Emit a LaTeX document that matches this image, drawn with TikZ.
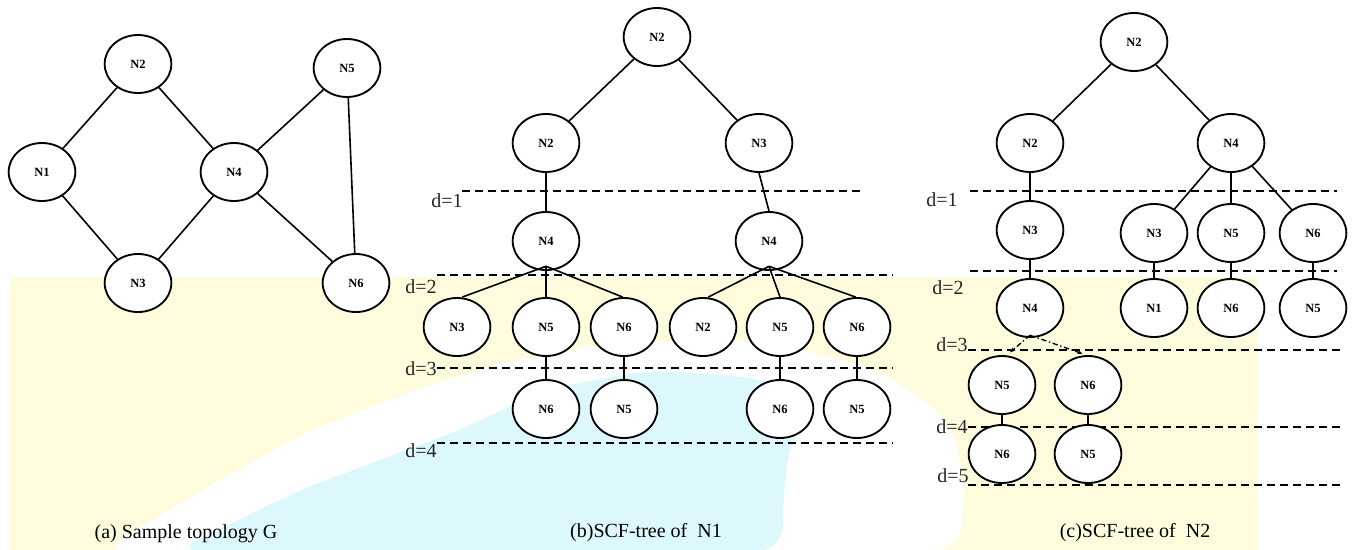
\documentclass[tikz,border=0pt]{standalone}
\usepackage{fontspec}
\setmainfont{Liberation Serif}
\usetikzlibrary{shapes.geometric,arrows.meta}
\definecolor{bgyellow}{RGB}{255,252,222}
\definecolor{bgcyan}{RGB}{220,248,252}
\begin{document}
\begin{tikzpicture}[x=0.75pt,y=-0.75pt,
  nd/.style={ellipse,draw,line width=1.4pt,fill=white,minimum width=50pt,minimum height=43.5pt,inner sep=0pt,font=\fontsize{9.4}{10}\selectfont\bfseries},
  ln/.style={line width=1.2pt},
  lvl/.style={dash pattern=on 6pt off 3.75pt,line width=1.3pt},
  dd/.style={line width=1pt,dash pattern=on 4pt off 2pt on 1pt off 2pt,-{Stealth[length=4pt,width=3pt]}},
  dl/.style={font=\fontsize{15}{16}\selectfont,inner sep=0pt,text=black!85},
  captxt/.style={font=\fontsize{15}{16}\selectfont,inner sep=0pt}]
\useasboundingbox (0,0) rectangle (1354,550);
% background watermark
\fill[bgyellow] (10,277) rectangle (1258,550);
\fill[white,rounded corners=20pt] (100,551) -- (220,480) -- (310,430) -- (430,385) -- (520,358) -- (620,343) -- (760,340) -- (880,370) -- (950,420) -- (965,480) -- (960,551) -- cycle;
\fill[bgcyan,rounded corners=20pt] (175,551) -- (300,490) -- (460,430) -- (550,388) -- (650,370) -- (760,378) -- (820,400) -- (790,440) -- (783,500) -- (783,551) -- cycle;

% ---------- (a) sample topology ----------
\node[nd] (a2) at (138,64) {N2};
\node[nd] (a5) at (347,68) {N5};
\node[nd] (a1) at (42,172) {N1};
\node[nd] (a4) at (234,172) {N4};
\node[nd] (a3) at (138,283) {N3};
\node[nd] (a6) at (356,283) {N6};
\draw[ln] (a1) -- (a2);
\draw[ln] (a2) -- (a4);
\draw[ln] (a1) -- (a3);
\draw[ln] (a3) -- (a4);
\draw[ln] (a4) -- (a5);
\draw[ln] (a4) -- (a6);
\draw[ln] (a5) -- (a6);
\node[captxt] (capa) at (186,534) {(a) Sample topology G};

% ---------- (b) SCF-tree of N1 ----------
\draw[lvl] (462,191) -- (862,191);
\draw[lvl] (437,275) -- (893,275);
\draw[lvl] (437,368) -- (893,368);
\draw[lvl] (437,443) -- (893,443);
\node[dl] (bd1) at (447,201) {d=1};
\node[dl] (bd2) at (421,287) {d=2};
\node[dl] (bd3) at (421,369) {d=3};
\node[dl] (bd4) at (421,451) {d=4};

\node[nd] (bR) at (657,37) {N2};
\node[nd] (bA) at (546,143) {N2};
\node[nd] (bB) at (759,143) {N3};
\node[nd] (bC) at (546,241) {N4};
\node[nd] (bD) at (769,241) {N4};
\node[nd] (b1) at (457,327) {N3};
\node[nd] (b2) at (546,327) {N5};
\node[nd] (b3) at (624,327) {N6};
\node[nd] (b4) at (703,327) {N2};
\node[nd] (b5) at (780,327) {N5};
\node[nd] (b6) at (857,327) {N6};
\node[nd] (b7) at (546,409) {N6};
\node[nd] (b8) at (624,409) {N5};
\node[nd] (b9) at (780,409) {N6};
\node[nd] (b10) at (857,409) {N5};
\coordinate (bCa) at ([yshift=3.5pt]bC.south);
\coordinate (bDa) at ([yshift=3.5pt]bD.south);
\draw[ln] (bR) -- (bA);
\draw[ln] (bR) -- (bB);
\draw[ln] (bA) -- (bC);
\draw[ln] (bB.south) -- (bD.north);
\draw[ln] (bCa) -- ([xshift=4pt]b1.north);
\draw[ln] (bCa) -- (b2.north);
\draw[ln] (bCa) -- ([xshift=-1pt]b3.north);
\draw[ln] (bDa) -- ([xshift=4pt]b4.north);
\draw[ln] (bDa) -- (b5.north);
\draw[ln] (bDa) -- ([xshift=-1pt]b6.north);
\draw[ln] (b2) -- (b7);
\draw[ln] (b3) -- (b8);
\draw[ln] (b5) -- (b9);
\draw[ln] (b6) -- (b10);
\node[captxt] (capb) at (646,533) {(b)SCF-tree of\ \ N1};

% ---------- (c) SCF-tree of N2 ----------
\draw[lvl] (970,191) -- (1337,191);
\draw[lvl] (970,271) -- (1337,271);
\draw[lvl] (968,350) -- (1342,350);
\draw[lvl] (968,427) -- (1342,427);
\draw[lvl] (968,485) -- (1342,485);
\node[dl] (cd1) at (942,200) {d=1};
\node[dl] (cd2) at (948,288) {d=2};
\node[dl] (cd3) at (952,345) {d=3};
\node[dl] (cd4) at (952,427) {d=4};
\node[dl] (cd5) at (953,476) {d=5};

\node[nd] (cR) at (1134,42) {N2};
\node[nd] (cA) at (1030,143) {N2};
\node[nd] (cB) at (1231,143) {N4};
\node[nd] (cC) at (1030,230) {N3};
\node[nd] (cD) at (1154,233) {N3};
\node[nd] (cE) at (1231,233) {N5};
\node[nd] (cF) at (1313,233) {N6};
\node[nd] (cG) at (1030,308) {N4};
\node[nd] (cH) at (1154,308) {N1};
\node[nd] (cI) at (1231,308) {N6};
\node[nd] (cJ) at (1313,308) {N5};
\node[nd] (cK) at (1002,385) {N5};
\node[nd] (cL) at (1088,385) {N6};
\node[nd] (cM) at (1002,454) {N6};
\node[nd] (cN) at (1088,454) {N5};
\draw[ln] (cR) -- (cA);
\draw[ln] (cR) -- (cB);
\draw[ln] (cA) -- (cC);
\draw[ln] (cB) -- (cD);
\draw[ln] (cB) -- (cE);
\draw[ln] (cB) -- (cF);
\draw[ln] (cC) -- (cG);
\draw[ln] (cD) -- (cH);
\draw[ln] (cE) -- (cI);
\draw[ln] (cF) -- (cJ);
\draw[ln] (cK) -- (cM);
\draw[ln] (cL) -- (cN);
\draw[dd] ([yshift=2pt]cG.south) -- ([xshift=6pt,yshift=2pt]cK.north);
\draw[dd] ([yshift=2pt]cG.south) -- ([xshift=-4pt,yshift=1pt]cL.north);
\node[captxt] (capc) at (1135,533) {(c)SCF-tree of\ \ N2};
\end{tikzpicture}
\end{document}
